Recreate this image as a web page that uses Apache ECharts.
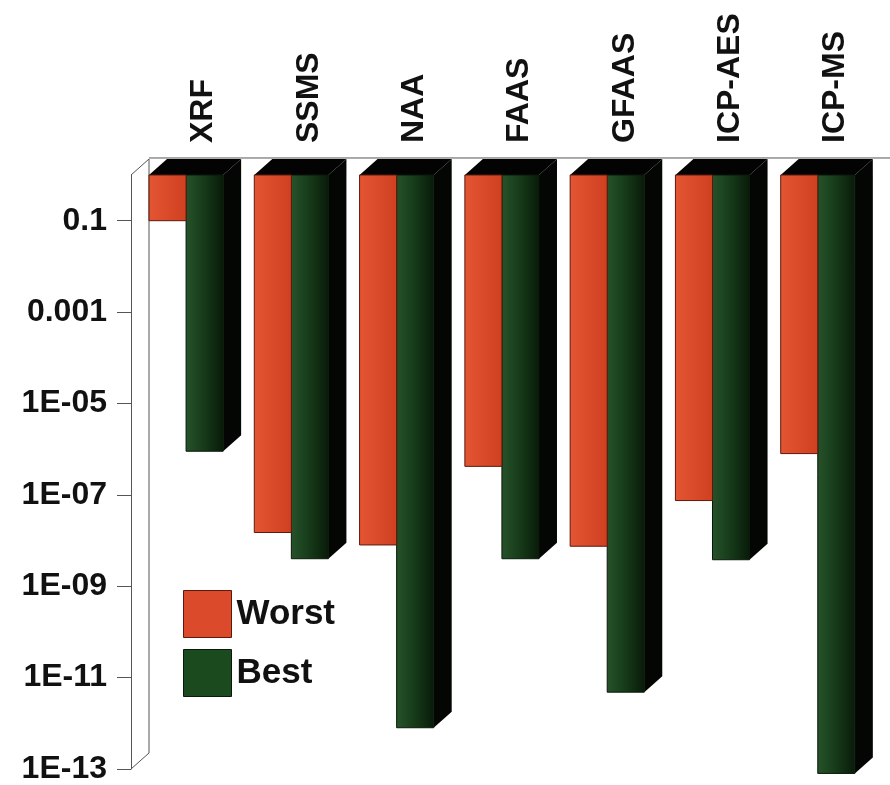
<!DOCTYPE html>
<html><head><meta charset="utf-8">
<script src="https://cdn.jsdelivr.net/npm/echarts@6/dist/echarts.min.js"></script>
<style>html,body{margin:0;padding:0;background:#fff}#c{width:890px;height:785px}</style>
</head><body><div id="c"></div>
<script>
const categories = ['XRF', 'SSMS', 'NAA', 'FAAS', 'GFAAS', 'ICP-AES', 'ICP-MS'];
const worst = [1e-1, 1.5e-8, 8e-9, 4.2e-7, 7.5e-9, 7.5e-8, 8e-7];
const best = [9e-7, 4e-9, 8e-13, 4e-9, 4.8e-12, 3.8e-9, 8e-14];
const yTickExps = [-1, -3, -5, -7, -9, -11, -13];
const yTickLabels = ['0.1', '0.001', '1E-05', '1E-07', '1E-09', '1E-11', '1E-13'];
const yMinExp = -13, yMaxExp = 0;

const FONT = '"Liberation Sans", Arial, sans-serif';
const DEPTH_X = 0.171, DEPTH_Y = 0.152, OFF = 0.171, BW = 0.352;

const redFill = new echarts.graphic.LinearGradient(0, 0, 1, 0, [
  {offset: 0, color: '#e45534'}, {offset: 1, color: '#cf4020'}]);
const greenFill = new echarts.graphic.LinearGradient(0, 0, 1, 0, [
  {offset: 0, color: '#26532a'}, {offset: 0.5, color: '#163a19'}, {offset: 1, color: '#081a09'}]);

function geom(api, idx, val) {
  const band = api.size([1, 0])[0];
  const c0 = api.coord([idx, 0]);
  const c1 = api.coord([idx, val]);
  const x = c0[0] - band / 2 + band * OFF;
  return {band, x, w: band * BW, y0: c0[1], y1: c1[1], dx: band * DEPTH_X, dy: -band * DEPTH_Y};
}

const chart = echarts.init(document.getElementById('c'));
chart.setOption({
  animation: false,
  backgroundColor: '#ffffff',
  grid: {left: 131, right: 22, top: 175, bottom: 12},
  legend: {
    orient: 'vertical', left: 183, top: 590, itemWidth: 48, itemHeight: 47, itemGap: 11,
    padding: 0, icon: 'rect',
    textStyle: {fontSize: 35, fontWeight: 'bold', color: '#111', fontFamily: FONT},
    data: [
      {name: 'Worst', itemStyle: {color: '#da4a2b', borderColor: '#5a1a0c', borderWidth: 1}},
      {name: 'Best', itemStyle: {color: '#1c4a1f', borderColor: '#0a1a0a', borderWidth: 1}}
    ]
  },
  xAxis: {
    type: 'category', position: 'top', data: categories,
    axisLine: {show: false}, axisTick: {show: false},
    axisLabel: {rotate: 90, margin: 32, fontSize: 32, fontWeight: 'bold', color: '#111',
      fontFamily: FONT, verticalAlign: 'top', lineHeight: 40}
  },
  yAxis: {
    type: 'value', min: yMinExp, max: yMaxExp,
    axisLine: {show: true, lineStyle: {color: '#555', width: 1}},
    axisTick: {show: true, customValues: yTickExps, length: 14, lineStyle: {color: '#555'}},
    axisLabel: {customValues: yTickExps, margin: 24, fontSize: 32, fontWeight: 'bold', color: '#111',
      fontFamily: FONT,
      formatter: v => yTickLabels[yTickExps.indexOf(Math.round(v))] || ''},
    splitLine: {show: false}
  },
  series: [
    {
      type: 'custom', name: 'frame', silent: true, z: 1,
      data: [[0, 0]],
      renderItem(params, api) {
        const band = api.size([1, 0])[0];
        const left = api.coord([0, yMaxExp])[0] - band / 2;
        const right = api.coord([categories.length - 1, yMaxExp])[0] + band / 2;
        const yT = api.coord([0, yMaxExp])[1];
        const yB = api.coord([0, yMinExp])[1];
        const dx = band * DEPTH_X, dy = -band * DEPTH_Y;
        const st = {stroke: '#555', lineWidth: 1, fill: null};
        return {type: 'group', children: [
          {type: 'line', shape: {x1: left + dx, y1: yT + dy, x2: left + dx, y2: yB + dy}, style: st},
          {type: 'line', shape: {x1: left, y1: yT, x2: left + dx, y2: yT + dy}, style: st},
          {type: 'line', shape: {x1: left, y1: yB, x2: left + dx, y2: yB + dy}, style: st},
          {type: 'line', shape: {x1: left + dx, y1: yT + dy - 1, x2: right + dx + 10, y2: yT + dy - 1}, style: st}
        ]};
      }
    },
    {
      type: 'custom', name: 'Worst', z: 3,
      data: worst.map((v, i) => [i, Math.log10(v)]),
      encode: {x: 0, y: 1},
      itemStyle: {color: '#da4a2b'},
      renderItem(params, api) {
        const g = geom(api, api.value(0), api.value(1));
        return {type: 'rect', shape: {x: g.x, y: g.y0, width: g.w, height: g.y1 - g.y0},
          style: {fill: redFill, stroke: '#5a1a0c', lineWidth: 1}};
      }
    },
    {
      type: 'custom', name: 'Best', z: 2,
      data: best.map((v, i) => [i, Math.log10(v)]),
      encode: {x: 0, y: 1},
      itemStyle: {color: '#1c4a1f'},
      renderItem(params, api) {
        const g = geom(api, api.value(0), api.value(1));
        const xg = g.x + g.w;
        return {type: 'group', children: [
          {type: 'polygon', shape: {points: [[g.x, g.y0], [xg + g.w, g.y0], [xg + g.w + g.dx, g.y0 + g.dy], [g.x + g.dx, g.y0 + g.dy]]},
            style: {fill: '#020302'}},
          {type: 'polygon', shape: {points: [[xg + g.w, g.y0], [xg + g.w + g.dx, g.y0 + g.dy], [xg + g.w + g.dx, g.y1 + g.dy], [xg + g.w, g.y1]]},
            style: {fill: '#030603'}},
          {type: 'rect', shape: {x: xg, y: g.y0, width: g.w, height: g.y1 - g.y0},
            style: {fill: greenFill, stroke: '#0a180a', lineWidth: 1}}
        ]};
      }
    }
  ]
});
</script>
</body></html>
